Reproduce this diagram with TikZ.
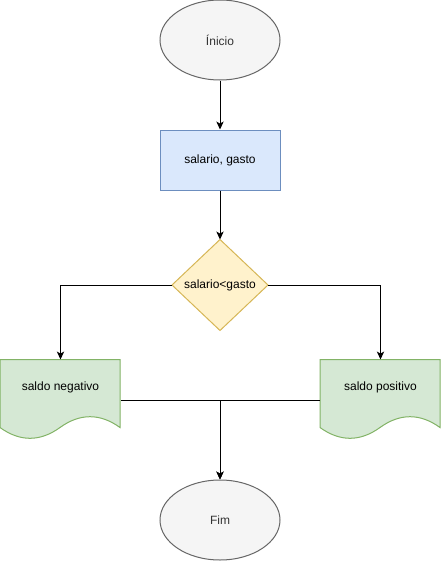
\documentclass[tikz,border=0pt]{standalone}
\usepackage{fontspec}
\setmainfont{Liberation Sans}
\usetikzlibrary{arrows.meta,shapes.geometric}
\definecolor{termfill}{HTML}{F5F5F5}
\definecolor{termline}{HTML}{666666}
\definecolor{termtext}{HTML}{333333}
\definecolor{iofill}{HTML}{DAE8FC}
\definecolor{ioline}{HTML}{6C8EBF}
\definecolor{decfill}{HTML}{FFF2CC}
\definecolor{decline}{HTML}{D6B656}
\definecolor{docfill}{HTML}{D5E8D4}
\definecolor{docline}{HTML}{82B366}
\begin{document}
\begin{tikzpicture}[x=0.75pt,y=-0.75pt,
  font=\fontsize{9}{11}\selectfont,
  every path/.style={line width=0.75pt},
  terminal/.style={ellipse,draw=termline,fill=termfill,text=termtext,minimum width=90pt,minimum height=60pt,inner sep=0pt},
  iobox/.style={rectangle,draw=ioline,fill=iofill,minimum width=90pt,minimum height=45pt,inner sep=0pt},
  frame/.style={rectangle,draw=none,minimum width=#1,inner sep=0pt},
  decshape/.style={draw=decline,fill=decfill},
  docshape/.style={draw=docline,fill=docfill},
  label/.style={inner sep=0pt},
  arr/.style={-{Stealth[length=6pt,width=5.5pt,inset=1.6pt]}}
]
\useasboundingbox (0,0) rectangle (441,561);

% nodes
\node[terminal] (ini) at (220,40) {Ínicio};
\node[iobox] (inp) at (220,160) {salario, gasto};
\node[frame=71.25pt,minimum height=67.5pt] (dec) at (220,285) {};
\draw[decshape] (dec.north) -- (dec.east) -- (dec.south) -- (dec.west) -- cycle;
\node[label] (dectxt) at (220,285) {salario<gasto};

\node[frame=90pt,minimum height=60pt] (neg) at (60.5,400) {};
\node[frame=90pt,minimum height=60pt] (pos) at (380.5,400) {};
\foreach \d in {neg,pos}{
  \begin{scope}[shift={(\d.north west)}]
    \draw[docshape] (0,0) -- (120,0) -- (120,68)
      .. controls (100,53.6) and (80,53.6) .. (60,68)
      .. controls (40,82.4) and (20,82.4) .. (0,68) -- cycle;
  \end{scope}
}
\node[label] (negtxt) at (60.5,387) {saldo negativo};
\node[label] (postxt) at (380.5,387) {saldo positivo};

\node[terminal] (fim) at (220,520) {Fim};

% connectors
\draw[arr] (ini) -- (inp);
\draw[arr] (inp) -- (dec.north);
\draw[arr] (dec.west) -| (neg.north);
\draw[arr] (dec.east) -| (pos.north);
\draw[arr] (neg.east) -| (fim.north);
\draw[arr] (pos.west) -| (fim.north);
\end{tikzpicture}
\end{document}
